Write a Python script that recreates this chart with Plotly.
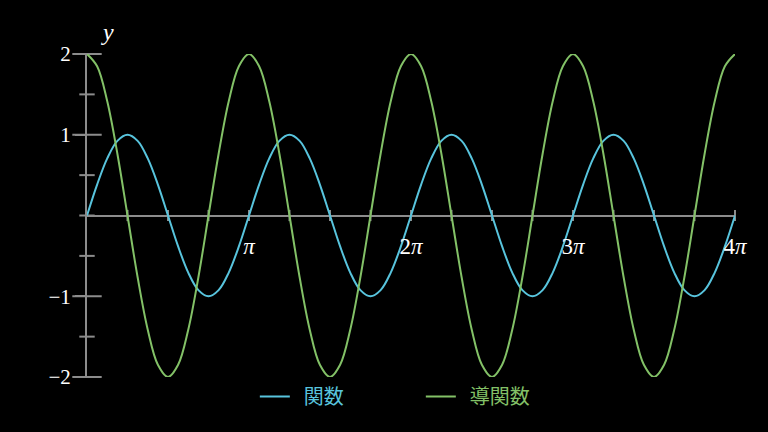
import plotly.graph_objects as go

# x in units of pi, sampled every pi/16
x_pi = [
    0.0, 0.0625, 0.125, 0.1875, 0.25, 0.3125, 0.375, 0.4375,
    0.5, 0.5625, 0.625, 0.6875, 0.75, 0.8125, 0.875, 0.9375,
    1.0, 1.0625, 1.125, 1.1875, 1.25, 1.3125, 1.375, 1.4375,
    1.5, 1.5625, 1.625, 1.6875, 1.75, 1.8125, 1.875, 1.9375,
    2.0, 2.0625, 2.125, 2.1875, 2.25, 2.3125, 2.375, 2.4375,
    2.5, 2.5625, 2.625, 2.6875, 2.75, 2.8125, 2.875, 2.9375,
    3.0, 3.0625, 3.125, 3.1875, 3.25, 3.3125, 3.375, 3.4375,
    3.5, 3.5625, 3.625, 3.6875, 3.75, 3.8125, 3.875, 3.9375,
    4.0,
]

# 関数
func_y = [
    0, 0.383, 0.707, 0.924, 1, 0.924, 0.707, 0.383,
    0, -0.383, -0.707, -0.924, -1, -0.924, -0.707, -0.383,
    0, 0.383, 0.707, 0.924, 1, 0.924, 0.707, 0.383,
    0, -0.383, -0.707, -0.924, -1, -0.924, -0.707, -0.383,
    0, 0.383, 0.707, 0.924, 1, 0.924, 0.707, 0.383,
    0, -0.383, -0.707, -0.924, -1, -0.924, -0.707, -0.383,
    0, 0.383, 0.707, 0.924, 1, 0.924, 0.707, 0.383,
    0, -0.383, -0.707, -0.924, -1, -0.924, -0.707, -0.383,
    0,
]

# 導関数
deriv_y = [
    2, 1.848, 1.414, 0.765, 0, -0.765, -1.414, -1.848,
    -2, -1.848, -1.414, -0.765, 0, 0.765, 1.414, 1.848,
    2, 1.848, 1.414, 0.765, 0, -0.765, -1.414, -1.848,
    -2, -1.848, -1.414, -0.765, 0, 0.765, 1.414, 1.848,
    2, 1.848, 1.414, 0.765, 0, -0.765, -1.414, -1.848,
    -2, -1.848, -1.414, -0.765, 0, 0.765, 1.414, 1.848,
    2, 1.848, 1.414, 0.765, 0, -0.765, -1.414, -1.848,
    -2, -1.848, -1.414, -0.765, 0, 0.765, 1.414, 1.848,
    2,
]

x_tick_vals = [1, 2, 3, 4]
x_tick_text = ["<i>π</i>", "2<i>π</i>", "3<i>π</i>", "4<i>π</i>"]
y_tick_vals = [-2, -1, 1, 2]
y_tick_text = ["−2", "−1", "1", "2"]
y_major_marks = [-2, -1, 1, 2]
y_minor_marks = [-1.5, -0.5, 0, 0.5, 1.5]
x_marks = [0.25, 0.5, 0.75, 1, 1.25, 1.5, 1.75, 2, 2.25, 2.5, 2.75, 3,
           3.25, 3.5, 3.75, 4]

BLUE = "#58C4DD"
GREEN = "#83C167"
AXIS = "#8c8c8c"
SERIF = "Liberation Serif"

fig = go.Figure()

# tick marks crossing the axes
fig.add_trace(go.Scatter(
    x=[0] * len(y_major_marks), y=y_major_marks, mode="markers",
    marker=dict(symbol="line-ew", size=21, line=dict(color=AXIS, width=2)),
    showlegend=False, hoverinfo="skip", cliponaxis=False))
fig.add_trace(go.Scatter(
    x=[0] * len(y_minor_marks), y=y_minor_marks, mode="markers",
    marker=dict(symbol="line-ew", size=11, line=dict(color=AXIS, width=2)),
    showlegend=False, hoverinfo="skip", cliponaxis=False))
fig.add_trace(go.Scatter(
    x=x_marks, y=[0] * len(x_marks), mode="markers",
    marker=dict(symbol="line-ns", size=8, line=dict(color=AXIS, width=2)),
    showlegend=False, hoverinfo="skip", cliponaxis=False))

fig.add_trace(go.Scatter(
    x=x_pi, y=func_y, mode="lines", line_shape="spline",
    line=dict(color=BLUE, width=2),
    name="<span style='color:%s'>\u00a0\u00a0関数</span>" % BLUE,
    cliponaxis=False))
fig.add_trace(go.Scatter(
    x=x_pi, y=deriv_y, mode="lines", line_shape="spline",
    line=dict(color=GREEN, width=2),
    name="<span style='color:%s'>\u00a0\u00a0導関数</span>" % GREEN,
    cliponaxis=False))

fig.update_layout(
    width=768, height=432,
    margin=dict(l=87, r=33, t=54, b=55),
    paper_bgcolor="black", plot_bgcolor="black",
    font=dict(family=SERIF, color="white", size=18),
    showlegend=True,
    legend=dict(orientation="h", x=0.259, xanchor="left",
                y=-0.06, yanchor="middle", entrywidth=121,
                font=dict(family="Noto Sans CJK JP", size=20),
                bgcolor="rgba(0,0,0,0)"),
    xaxis=dict(range=[0, 4], showgrid=False, zeroline=False, showline=False,
               anchor="free", position=0.5,
               tickvals=x_tick_vals, ticktext=x_tick_text,
               ticks="outside", ticklen=10, tickcolor="rgba(0,0,0,0)",
               tickfont=dict(family=SERIF, size=23, color="white")),
    yaxis=dict(range=[-2, 2], showgrid=False,
               zeroline=True, zerolinecolor=AXIS, zerolinewidth=2,
               showline=True, linecolor=AXIS, linewidth=2,
               tickvals=y_tick_vals, ticktext=y_tick_text,
               ticks="outside", ticklen=10, tickwidth=2, tickcolor=AXIS,
               tickfont=dict(family=SERIF, size=21, color="white")),
)

fig.add_annotation(
    text="<i>y</i>", xref="paper", yref="paper", x=0.032, y=1.068,
    xanchor="center", yanchor="middle",
    showarrow=False, font=dict(family=SERIF, size=24, color="white"))

fig.write_html(
    "out.html",
    config={"displayModeBar": False},
    post_script="document.body.style.margin='0';"
                "document.body.style.background='black';")
